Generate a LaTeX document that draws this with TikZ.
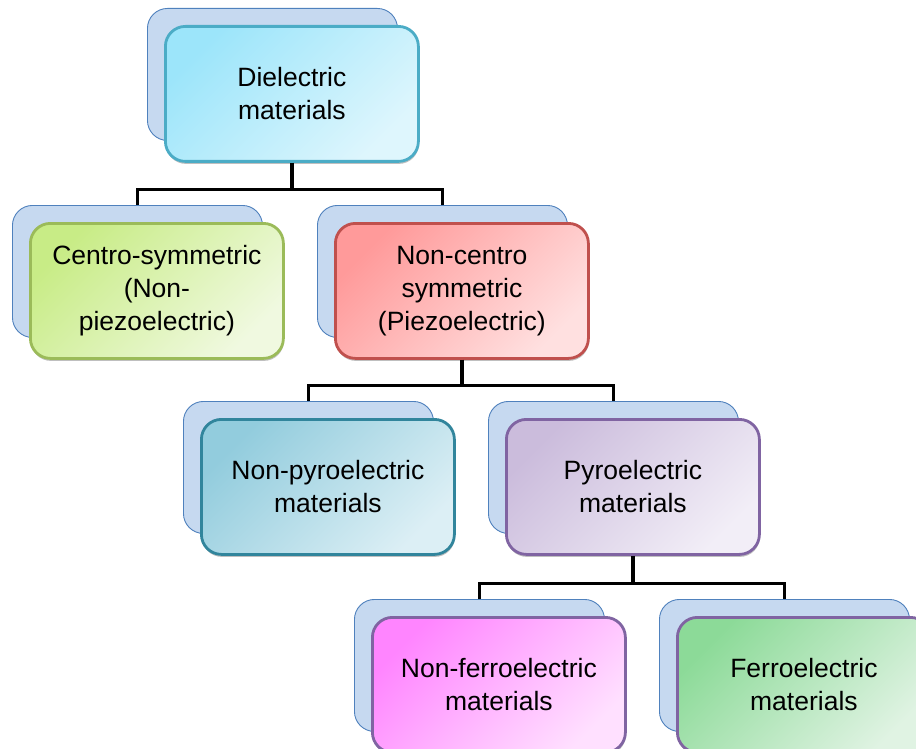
\documentclass[tikz,border=0pt]{standalone}
\usepackage{fontspec}
\setmainfont{Liberation Sans}
\usetikzlibrary{shadows}
\definecolor{backfill}{HTML}{C6D9F0}
\definecolor{backedge}{HTML}{4F81BD}
\definecolor{dielA}{HTML}{9CE5FA}\definecolor{dielB}{HTML}{DEF6FD}\definecolor{dielE}{HTML}{4BACC6}
\definecolor{cenA}{HTML}{C8EC86}\definecolor{cenB}{HTML}{F0F9E0}\definecolor{cenE}{HTML}{9BBB59}
\definecolor{ncA}{HTML}{FF9A9A}\definecolor{ncB}{HTML}{FFE0E0}\definecolor{ncE}{HTML}{C0504D}
\definecolor{npA}{HTML}{92CCDD}\definecolor{npB}{HTML}{DCEFF5}\definecolor{npE}{HTML}{31859C}
\definecolor{pyA}{HTML}{CBBCDC}\definecolor{pyB}{HTML}{F2EEF7}\definecolor{pyE}{HTML}{8064A2}
\definecolor{nfA}{HTML}{FF85FF}\definecolor{nfB}{HTML}{FFE0FF}
\definecolor{feA}{HTML}{8CDA98}\definecolor{feB}{HTML}{E0F3E3}
\tikzset{
  backbox/.style={draw=backedge, fill=backfill, line width=0.9pt, rounded corners=20pt,
    minimum width=250pt, minimum height=132pt, inner sep=0pt, anchor=north west},
  frontbox/.style n args={3}{draw=#1, top color=#2, bottom color=#3, shading angle=45,
    line width=2.8pt, rounded corners=20pt, minimum width=253pt, minimum height=135pt,
    inner sep=0pt, anchor=north west, align=center, text=black,
    font=\fontsize{26.5}{33}\selectfont,
    drop shadow={shadow xshift=0.5pt, shadow yshift=-2.5pt, opacity=0.25, fill=black}},
  conn/.style={draw=black, line width=3.2pt}
}
\begin{document}
\begin{tikzpicture}[x=1pt, y=-1pt]
\useasboundingbox (0,0) rectangle (916,749);
\clip (0,0) rectangle (916,749);
\fill[white] (0,0) rectangle (916,749);
% back boxes
\node[backbox] (dielBk) at (147,8) {};
\node[backbox] (cenBk) at (12,205) {};
\node[backbox] (ncBk) at (317,205) {};
\node[backbox] (npBk) at (183,401) {};
\node[backbox] (pyBk) at (488,401) {};
\node[backbox] (nfBk) at (354,599) {};
\node[backbox] (feBk) at (659,599) {};
% front boxes
\node[frontbox={dielE}{dielA}{dielB}] (diel) at (164,25) {Dielectric\\materials};
\node[frontbox={cenE}{cenA}{cenB}] (cen) at (29,222) {Centro-symmetric\\(Non-\\piezoelectric)};
\node[frontbox={ncE}{ncA}{ncB}] (nc) at (334,222) {Non-centro\\symmetric\\(Piezoelectric)};
\node[frontbox={npE}{npA}{npB}] (np) at (200,418) {Non-pyroelectric\\materials};
\node[frontbox={pyE}{pyA}{pyB}] (py) at (505,418) {Pyroelectric\\materials};
\node[frontbox={pyE}{nfA}{nfB}] (nf) at (371,616) {Non-ferroelectric\\materials};
\node[frontbox={pyE}{feA}{feB}] (fe) at (676,616) {Ferroelectric\\materials};
% connectors
\draw[conn] (diel.south) -- ++(0,27) -| (cenBk.north);
\draw[conn] (diel.south) -- ++(0,27) -| (ncBk.north);
\draw[conn] (nc.south) -- ++(0,26) -| (npBk.north);
\draw[conn] (nc.south) -- ++(0,26) -| (pyBk.north);
\draw[conn] (py.south) -- ++(0,28) -| (nfBk.north);
\draw[conn] (py.south) -- ++(0,28) -| (feBk.north);
\end{tikzpicture}
\end{document}
